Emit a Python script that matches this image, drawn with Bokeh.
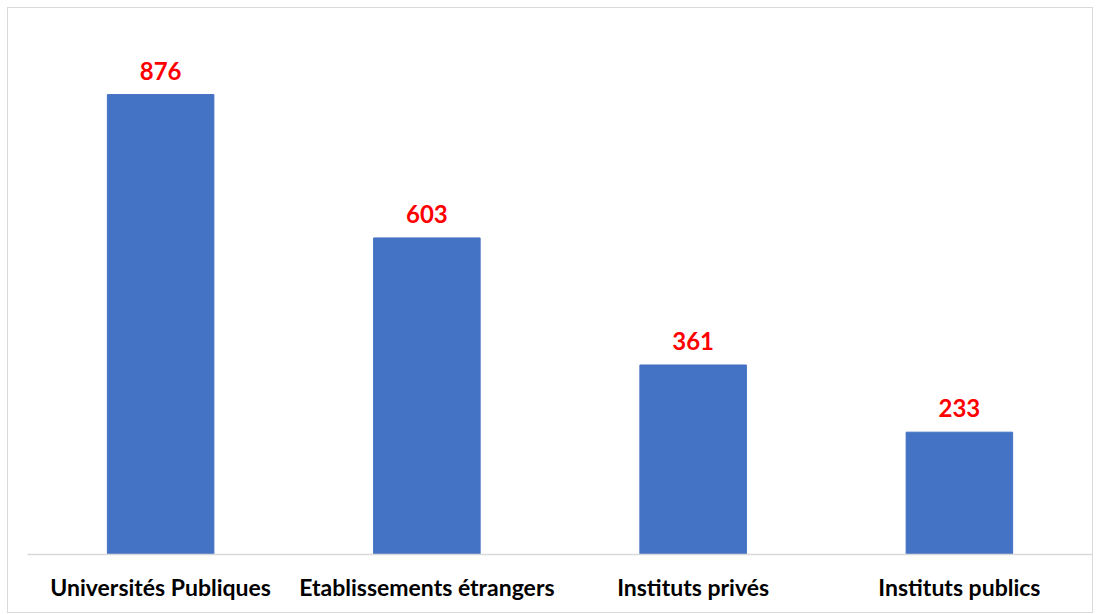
from bokeh.plotting import figure
from bokeh.models import ColumnDataSource, Range1d
from bokeh.core.properties import value
from bokeh.embed import file_html
from bokeh.resources import INLINE

categories = ["Universités Publiques", "Etablissements étrangers", "Instituts privés", "Instituts publics"]
counts = [876, 603, 361, 233]
labels = [str(v) for v in counts]

src = ColumnDataSource(dict(cat=categories, val=counts, lab=labels))

p = figure(x_range=categories, y_range=Range1d(0, 1000), width=1086, height=606,
           output_backend="svg", toolbar_location=None,
           min_border_left=19, min_border_right=2, min_border_top=21, min_border_bottom=60)
p.styles = {"border": "1px solid #D9D9D9", "box-sizing": "border-box",
            "margin-left": "7px", "margin-top": "7px"}
p.outline_line_color = None
p.grid.visible = False
p.yaxis.visible = False
p.x_range.range_padding = 0

p.vbar(x="cat", top="val", width=0.40, source=src, fill_color="#4472C4", line_color="#4472C4")
p.text(x="cat", y="val", text="lab", source=src, y_offset=-15, text_align="center",
       text_baseline="bottom", text_color="#FF0000", text_font=value("Lato"),
       text_font_style="bold", text_font_size="24px")

ax = p.xaxis[0]
ax.axis_line_color = "#D9D9D9"
ax.axis_line_width = 1.5
ax.major_tick_line_color = None
ax.minor_tick_line_color = None
ax.major_label_text_font = "Lato"
ax.major_label_text_font_style = "bold"
ax.major_label_text_font_size = "23px"
ax.major_label_text_color = "#000000"
ax.major_label_standoff = 12

open("out.html", "w").write(file_html(p, INLINE))
